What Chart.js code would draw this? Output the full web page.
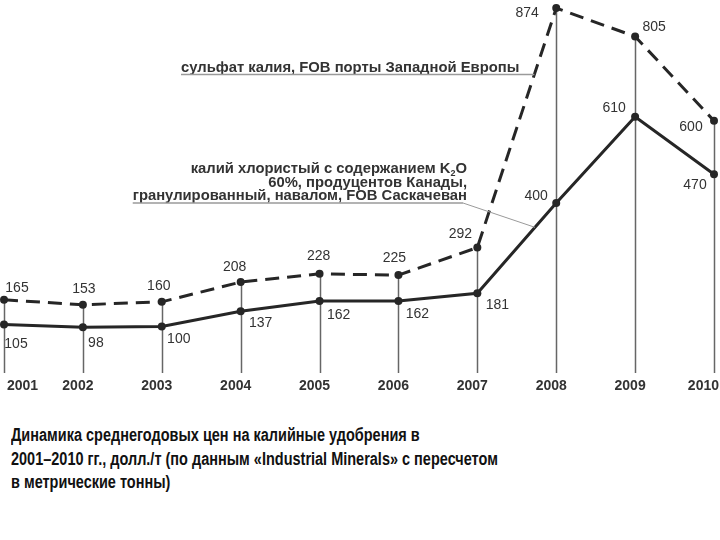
<!DOCTYPE html>
<html>
<head>
<meta charset="utf-8">
<script src="https://cdn.jsdelivr.net/npm/chart.js@4"></script>
<style>
  body { margin: 0; background: #fff; width: 720px; height: 540px; overflow: hidden; }
  #wrap { position: absolute; left: 0; top: 0; width: 720px; height: 400px; }
  #caption {
    position: absolute; left: 11px; top: 424px;
    font-family: "Liberation Sans", Arial, sans-serif; font-weight: bold;
    font-size: 18px; line-height: 23.5px; color: #111;
    white-space: nowrap; transform: scaleX(0.805); transform-origin: 0 0;
  }
</style>
</head>
<body>
<div id="wrap"><canvas id="priceChart" width="720" height="400"></canvas></div>
<div id="caption">Динамика среднегодовых цен на калийные удобрения в<br>2001–2010 гг., долл./т (по данным «Industrial Minerals» с пересчетом<br>в метрические тонны)</div>
<script>
const years = ["2001", "2002", "2003", "2004", "2005", "2006", "2007", "2008", "2009", "2010"];
const sulfatePrices = [165, 153, 160, 208, 228, 225, 292, 874, 805, 600];
const chloridePrices = [105, 98, 100, 137, 162, 162, 181, 400, 610, 470];

// label offsets from the point (px)
const sulfateLabelPos = [[13, -12], [1, -16], [-3, -16], [-6, -15], [-1, -18], [-4, -17], [-17, -13], [-29, 5], [19, -9], [-23, 6]];
const chlorideLabelPos = [[12, 20], [13, 16], [17, 13], [20, 12], [19, 14], [19, 13], [20, 12], [-20, -7], [-21, -9], [-19, 11]];

const textColor = "#333";
const fontBold = "bold 14px 'Liberation Sans', Arial, sans-serif";
const fontNote = "bold 14.8px 'Liberation Sans', Arial, sans-serif";
const fontReg = "14px 'Liberation Sans', Arial, sans-serif";

const decorPlugin = {
  id: "decor",
  beforeDatasetsDraw(chart) {
    // drop lines from upper point to bottom
    const ctx = chart.ctx;
    const m0 = chart.getDatasetMeta(0).data;
    const m1 = chart.getDatasetMeta(1).data;
    const bottom = chart.chartArea.bottom;
    ctx.save();
    ctx.strokeStyle = "#666";
    ctx.lineWidth = 1.5;
    m0.forEach((p, i) => {
      const top = Math.min(p.y, m1[i].y);
      ctx.beginPath();
      ctx.moveTo(Math.round(p.x) + 0.5, top);
      ctx.lineTo(Math.round(p.x) + 0.5, bottom);
      ctx.stroke();
    });
    ctx.restore();
  },
  afterDatasetsDraw(chart) {
    const ctx = chart.ctx;
    const m0 = chart.getDatasetMeta(0).data;
    const m1 = chart.getDatasetMeta(1).data;
    ctx.save();
    ctx.fillStyle = textColor;
    ctx.font = fontReg;
    ctx.textAlign = "center";
    ctx.textBaseline = "middle";
    m0.forEach((p, i) => {
      ctx.fillText(String(sulfatePrices[i]), p.x + sulfateLabelPos[i][0], p.y + sulfateLabelPos[i][1]);
    });
    m1.forEach((p, i) => {
      ctx.fillText(String(chloridePrices[i]), p.x + chlorideLabelPos[i][0], p.y + chlorideLabelPos[i][1]);
    });

    // year labels under the drop lines
    ctx.font = fontBold;
    m0.forEach((p, i) => {
      const w = ctx.measureText(years[i]).width;
      let cx = p.x - 5;
      if (cx - w / 2 < 7) cx = 7 + w / 2;
      if (cx + w / 2 > 719) cx = 719 - w / 2;
      ctx.fillText(years[i], cx, 386);
    });

    // series annotations
    ctx.font = fontNote;
    ctx.textBaseline = "alphabetic";
    ctx.textAlign = "left";
    const a = m0[6], b = m0[7];
    const yS = 74.5;
    const xS = a.x + (b.x - a.x) * (a.y - yS) / (a.y - b.y);
    ctx.fillText("сульфат калия, FOB порты Западной Европы", 181, 72);
    ctx.strokeStyle = "#9a9a9a";
    ctx.lineWidth = 1.5;
    ctx.beginPath();
    ctx.moveTo(181, yS);
    ctx.lineTo(xS, yS);
    ctx.stroke();

    const rx = 467;
    ctx.textAlign = "right";
    const wO = ctx.measureText("O").width;
    ctx.fillText("O", rx, 173);
    ctx.font = "bold 9px 'Liberation Sans', Arial, sans-serif";
    const w2 = ctx.measureText("2").width;
    ctx.fillText("2", rx - wO, 176);
    ctx.font = fontNote;
    ctx.fillText("калий хлористый с содержанием K", rx - wO - w2, 173);
    ctx.fillText("60%, продуцентов Канады,", rx, 187);
    const l3 = "гранулированный, навалом, FOB Саскачеван";
    ctx.fillText(l3, rx, 200);
    const l3w = ctx.measureText(l3).width;

    const c = m1[6], d = m1[7];
    const xC = 535;
    const yC = c.y + (d.y - c.y) * (xC - c.x) / (d.x - c.x);
    ctx.beginPath();
    ctx.moveTo(rx - l3w, 203);
    ctx.lineTo(rx - 4, 203);
    ctx.stroke();
    ctx.lineWidth = 1;
    ctx.beginPath();
    ctx.moveTo(rx - 4, 203);
    ctx.lineTo(xC, yC);
    ctx.stroke();
    ctx.restore();
  }
};

new Chart(document.getElementById("priceChart"), {
  type: "line",
  data: {
    labels: years,
    datasets: [
      {
        label: "сульфат калия, FOB порты Западной Европы",
        data: sulfatePrices,
        borderColor: "#262626",
        backgroundColor: "#262626",
        borderWidth: 3,
        borderDash: [14, 8],
        pointRadius: 4,
        pointBackgroundColor: "#262626",
        pointBorderWidth: 0,
        tension: 0,
        clip: false,
      },
      {
        label: "калий хлористый с содержанием K2O 60%",
        data: chloridePrices,
        borderColor: "#262626",
        backgroundColor: "#262626",
        borderWidth: 3,
        pointRadius: 4,
        pointBackgroundColor: "#262626",
        pointBorderWidth: 0,
        tension: 0,
        clip: false,
      },
    ],
  },
  options: {
    responsive: false,
    animation: false,
    layout: { padding: { left: 4, right: 6, top: 0, bottom: 27 } },
    plugins: { legend: { display: false }, tooltip: { enabled: false } },
    scales: {
      x: { display: false, offset: false },
      y: { display: false, min: -13, max: 884 },
    },
  },
  plugins: [decorPlugin],
});
</script>
</body>
</html>
